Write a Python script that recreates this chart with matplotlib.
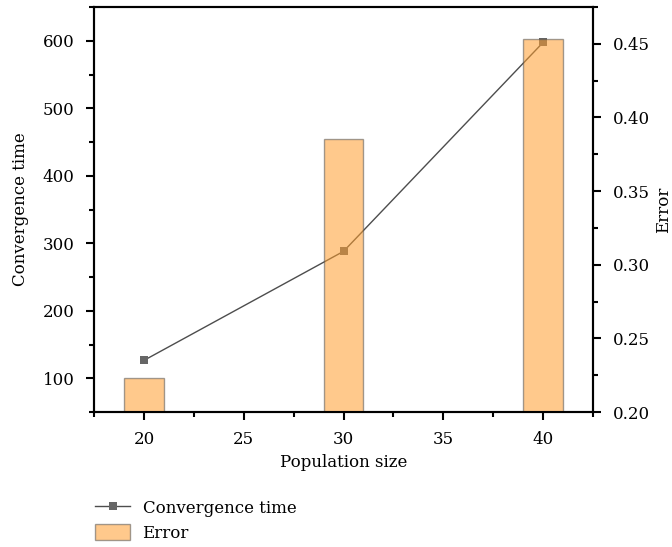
import numpy as np
import matplotlib.pyplot as plt
from matplotlib.ticker import MultipleLocator

plt.rcParams['font.family'] = ['DejaVu Serif']
plt.rcParams['font.size'] = 12

# data
pop_size = [20, 30, 40]
conv_time = [126.5, 288, 597.5]
error = [0.2232, 0.3853, 0.4532]

fig = plt.figure(figsize=(6.72, 5.47), dpi=100)
ax1 = fig.add_axes([0.140, 0.2468, 0.7424, 0.7404])
ax2 = ax1.twinx()

ln, = ax1.plot(pop_size, conv_time, '-s', color='#4d4d4d', linewidth=1.0,
               markersize=6, markerfacecolor='#666666', markeredgewidth=0)
bars = ax2.bar(pop_size, [e - 0.2 for e in error], bottom=0.2, width=2,
               color='#FF9E2E', alpha=0.55, edgecolor='#555555', linewidth=1)

ax1.set_xlim(17.5, 42.5)
ax1.set_ylim(50, 650)
ax2.set_ylim(0.2, 0.475)

ax1.xaxis.set_major_locator(MultipleLocator(5))
ax1.xaxis.set_minor_locator(MultipleLocator(2.5))
ax1.yaxis.set_major_locator(MultipleLocator(100))
ax1.yaxis.set_minor_locator(MultipleLocator(50))
ax2.yaxis.set_major_locator(MultipleLocator(0.05))
ax2.yaxis.set_minor_locator(MultipleLocator(0.025))
ax2.yaxis.set_major_formatter(plt.FormatStrFormatter('%.2f'))

for ax in (ax1, ax2):
    for s in ax.spines.values():
        s.set_linewidth(1.5)
    ax.tick_params(which='major', direction='out', length=6, width=1.5, pad=8)
    ax.tick_params(which='minor', direction='out', length=3.5, width=1.5)
ax1.tick_params(top=False, which='both')

ax1.set_xlabel('Population size', labelpad=4)
ax1.set_ylabel('Convergence time', labelpad=10)
ax2.set_ylabel('Error', labelpad=4)

fig.legend([ln, bars], ['Convergence time', 'Error'], loc='upper left',
           bbox_to_anchor=(0.129, 0.102), bbox_transform=fig.transFigure,
           frameon=False, handlelength=2.1, handleheight=1.05, labelspacing=0.45,
           borderpad=0, handletextpad=0.75)

fig.savefig('out.png', dpi=100)
